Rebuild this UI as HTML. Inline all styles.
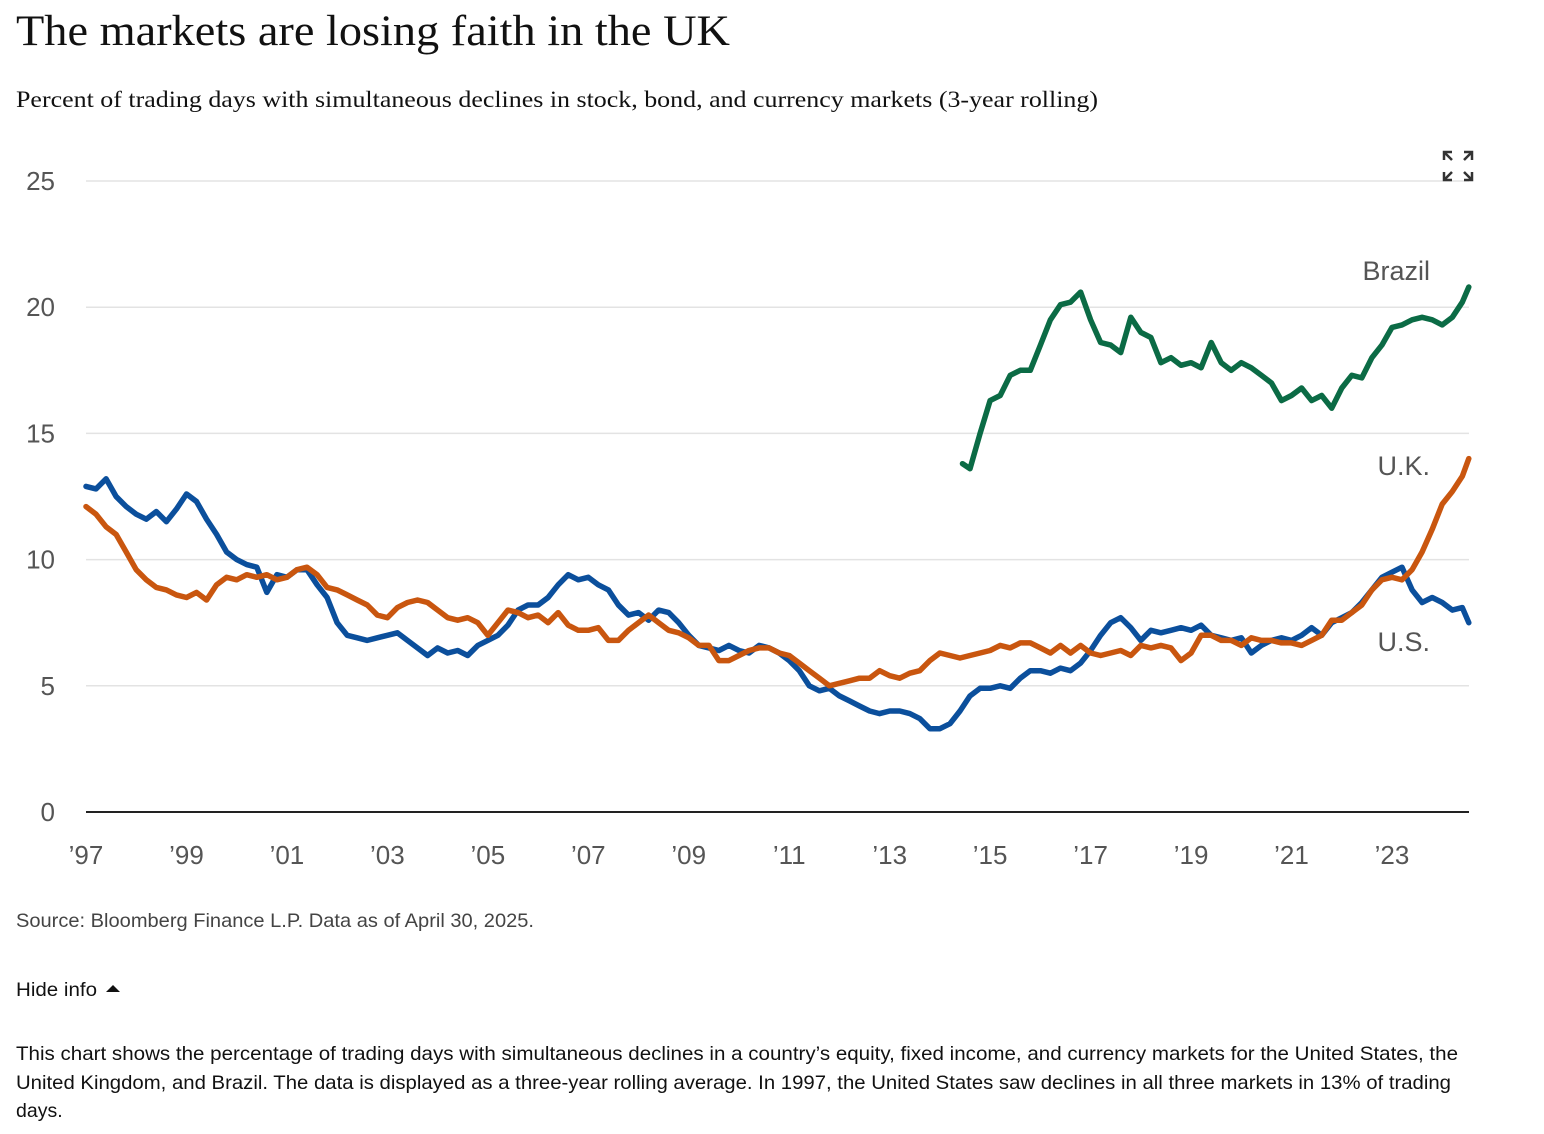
<!DOCTYPE html>
<html><head><meta charset="utf-8"><style>
html,body{margin:0;padding:0;background:#fff;width:1544px;height:1134px;overflow:hidden}
svg{display:block}
.ser{font-family:"Liberation Serif",serif;fill:#111}
.sans{font-family:"Liberation Sans",sans-serif}
</style></head><body>
<svg id="c" width="1544" height="1134">
<text class="ser" x="16" y="45" font-size="43" textLength="714" lengthAdjust="spacingAndGlyphs">The markets are losing faith in the UK</text>
<text class="ser" x="16" y="107" font-size="23" textLength="1082" lengthAdjust="spacingAndGlyphs" fill="#222">Percent of trading days with simultaneous declines in stock, bond, and currency markets (3-year rolling)</text>
<g id="grid"></g>
<g id="yt"></g>
<g id="xt"></g>
<g id="lines"></g>
<g stroke="#333" stroke-width="2.5" fill="none">
<path d="M1444 160v-8h8M1444 152l8 8M1472 160v-8h-8M1472 152l-8 8M1444 172v8h8M1444 180l8-8M1472 172v8h-8M1472 180l-8-8"/>
</g>
<text class="sans" x="1430" y="280" font-size="27" fill="#555" text-anchor="end">Brazil</text>
<text class="sans" x="1430" y="475" font-size="27" fill="#555" text-anchor="end">U.K.</text>
<text class="sans" x="1430" y="651" font-size="27" fill="#555" text-anchor="end">U.S.</text>
<text class="sans" x="16" y="927" font-size="19.5" fill="#444" textLength="518" lengthAdjust="spacingAndGlyphs">Source: Bloomberg Finance L.P. Data as of April 30, 2025.</text>
<g>
<text class="sans" x="16" y="996" font-size="19.5" fill="#111" textLength="81" lengthAdjust="spacingAndGlyphs">Hide info</text>
<path d="M106 992l7-7 7 7z" fill="#111"/>
</g>
<g class="sans" font-size="19.5" fill="#111">
<text x="16" y="1060" textLength="1442" lengthAdjust="spacingAndGlyphs">This chart shows the percentage of trading days with simultaneous declines in a country’s equity, fixed income, and currency markets for the United States, the</text>
<text x="16" y="1089" textLength="1435" lengthAdjust="spacingAndGlyphs">United Kingdom, and Brazil. The data is displayed as a three-year rolling average. In 1997, the United States saw declines in all three markets in 13% of trading</text>
<text x="16" y="1117">days.</text>
</g>
</svg>
<script>
const yTicks=[0,5,10,15,20,25];
const xTicks=[1997,1999,2001,2003,2005,2007,2009,2011,2013,2015,2017,2019,2021,2023];
const xTickLabels=["’97","’99","’01","’03","’05","’07","’09","’11","’13","’15","’17","’19","’21","’23"];
const usX=[1997,1997.2,1997.4,1997.6,1997.8,1998,1998.2,1998.4,1998.6,1998.8,1999,1999.2,1999.4,1999.6,1999.8,2000,2000.2,2000.4,2000.6,2000.8,2001,2001.2,2001.4,2001.6,2001.8,2002,2002.2,2002.4,2002.6,2002.8,2003,2003.2,2003.4,2003.6,2003.8,2004,2004.2,2004.4,2004.6,2004.8,2005,2005.2,2005.4,2005.6,2005.8,2006,2006.2,2006.4,2006.6,2006.8,2007,2007.2,2007.4,2007.6,2007.8,2008,2008.2,2008.4,2008.6,2008.8,2009,2009.2,2009.4,2009.6,2009.8,2010,2010.2,2010.4,2010.6,2010.8,2011,2011.2,2011.4,2011.6,2011.8,2012,2012.2,2012.4,2012.6,2012.8,2013,2013.2,2013.4,2013.6,2013.8,2014,2014.2,2014.4,2014.6,2014.8,2015,2015.2,2015.4,2015.6,2015.8,2016,2016.2,2016.4,2016.6,2016.8,2017,2017.2,2017.4,2017.6,2017.8,2018,2018.2,2018.4,2018.6,2018.8,2019,2019.2,2019.4,2019.6,2019.8,2020,2020.2,2020.4,2020.6,2020.8,2021,2021.2,2021.4,2021.6,2021.8,2022,2022.2,2022.4,2022.6,2022.8,2023,2023.2,2023.4,2023.6,2023.8,2024,2024.2,2024.4,2024.53];
const usVals=[12.9,12.8,13.2,12.5,12.1,11.8,11.6,11.9,11.5,12.0,12.6,12.3,11.6,11.0,10.3,10.0,9.8,9.7,8.7,9.4,9.3,9.6,9.6,9.0,8.5,7.5,7.0,6.9,6.8,6.9,7.0,7.1,6.8,6.5,6.2,6.5,6.3,6.4,6.2,6.6,6.8,7.0,7.4,8.0,8.2,8.2,8.5,9.0,9.4,9.2,9.3,9.0,8.8,8.2,7.8,7.9,7.6,8.0,7.9,7.5,7.0,6.6,6.5,6.4,6.6,6.4,6.3,6.6,6.5,6.3,6.0,5.6,5.0,4.8,4.9,4.6,4.4,4.2,4.0,3.9,4.0,4.0,3.9,3.7,3.3,3.3,3.5,4.0,4.6,4.9,4.9,5.0,4.9,5.3,5.6,5.6,5.5,5.7,5.6,5.9,6.4,7.0,7.5,7.7,7.3,6.8,7.2,7.1,7.2,7.3,7.2,7.4,7.0,6.9,6.8,6.9,6.3,6.6,6.8,6.9,6.8,7.0,7.3,7.0,7.5,7.7,7.9,8.3,8.8,9.3,9.5,9.7,8.8,8.3,8.5,8.3,8.0,8.1,7.5];
const ukVals=[12.1,11.8,11.3,11.0,10.3,9.6,9.2,8.9,8.8,8.6,8.5,8.7,8.4,9.0,9.3,9.2,9.4,9.3,9.4,9.2,9.3,9.6,9.7,9.4,8.9,8.8,8.6,8.4,8.2,7.8,7.7,8.1,8.3,8.4,8.3,8.0,7.7,7.6,7.7,7.5,7.0,7.5,8.0,7.9,7.7,7.8,7.5,7.9,7.4,7.2,7.2,7.3,6.8,6.8,7.2,7.5,7.8,7.5,7.2,7.1,6.9,6.6,6.6,6.0,6.0,6.2,6.4,6.5,6.5,6.3,6.2,5.9,5.6,5.3,5.0,5.1,5.2,5.3,5.3,5.6,5.4,5.3,5.5,5.6,6.0,6.3,6.2,6.1,6.2,6.3,6.4,6.6,6.5,6.7,6.7,6.5,6.3,6.6,6.3,6.6,6.3,6.2,6.3,6.4,6.2,6.6,6.5,6.6,6.5,6.0,6.3,7.0,7.0,6.8,6.8,6.6,6.9,6.8,6.8,6.7,6.7,6.6,6.8,7.0,7.6,7.6,7.9,8.2,8.8,9.2,9.3,9.2,9.6,10.3,11.2,12.2,12.7,13.3,14.0];
const brX=[2014.45,2014.6,2014.8,2015,2015.2,2015.4,2015.6,2015.8,2016,2016.2,2016.4,2016.6,2016.8,2017,2017.2,2017.4,2017.6,2017.8,2018,2018.2,2018.4,2018.6,2018.8,2019,2019.2,2019.4,2019.6,2019.8,2020,2020.2,2020.4,2020.6,2020.8,2021,2021.2,2021.4,2021.6,2021.8,2022,2022.2,2022.4,2022.6,2022.8,2023,2023.2,2023.4,2023.6,2023.8,2024,2024.2,2024.4,2024.53];
const brVals=[13.8,13.6,15.0,16.3,16.5,17.3,17.5,17.5,18.5,19.5,20.1,20.2,20.6,19.5,18.6,18.5,18.2,19.6,19.0,18.8,17.8,18.0,17.7,17.8,17.6,18.6,17.8,17.5,17.8,17.6,17.3,17.0,16.3,16.5,16.8,16.3,16.5,16.0,16.8,17.3,17.2,18.0,18.5,19.2,19.3,19.5,19.6,19.5,19.3,19.6,20.2,20.8];

const NS="http://www.w3.org/2000/svg";
const X0=86,X1=1469;
const xs=v=>86+(v-1997)*50.23;
const ys=v=>812-v*25.24;
function mk(t,a,p){const e=document.createElementNS(NS,t);for(const k in a)e.setAttribute(k,a[k]);p.appendChild(e);return e;}
const grid=document.getElementById('grid'),yt=document.getElementById('yt'),xt=document.getElementById('xt'),lines=document.getElementById('lines');
yTicks.forEach(v=>{
  const l=mk('line',{x1:X0,x2:X1,y1:ys(v),y2:ys(v),stroke:v===0?'#222':'#e3e3e3','stroke-width':v===0?2:1.5},grid);
  
  
  const t=mk('text',{x:55,y:ys(v)+9,'text-anchor':'end','font-size':26,fill:'#555','class':'sans'},yt);
  t.textContent=v;
  
  
});
xTicks.forEach((v,i)=>{
  const t=mk('text',{x:xs(v),y:864,'text-anchor':'middle','font-size':26,fill:'#555','class':'sans'},xt);
  t.textContent=xTickLabels[i];
  
  
});
function line(xa,va,col,name){
  const d=xa.map((x,i)=>(i?'L':'M')+xs(x).toFixed(1)+' '+ys(va[i]).toFixed(1)).join('');
  const p=mk('path',{d:d,fill:'none',stroke:col,'stroke-width':5.5,'stroke-linejoin':'round','stroke-linecap':'round'},lines);
  
  
}
line(usX,usVals,'#0b4f9c','line-us');
line(usX,ukVals,'#c9560f','line-uk');
line(brX,brVals,'#0b6b45','line-brazil');
</script>
</body></html>
